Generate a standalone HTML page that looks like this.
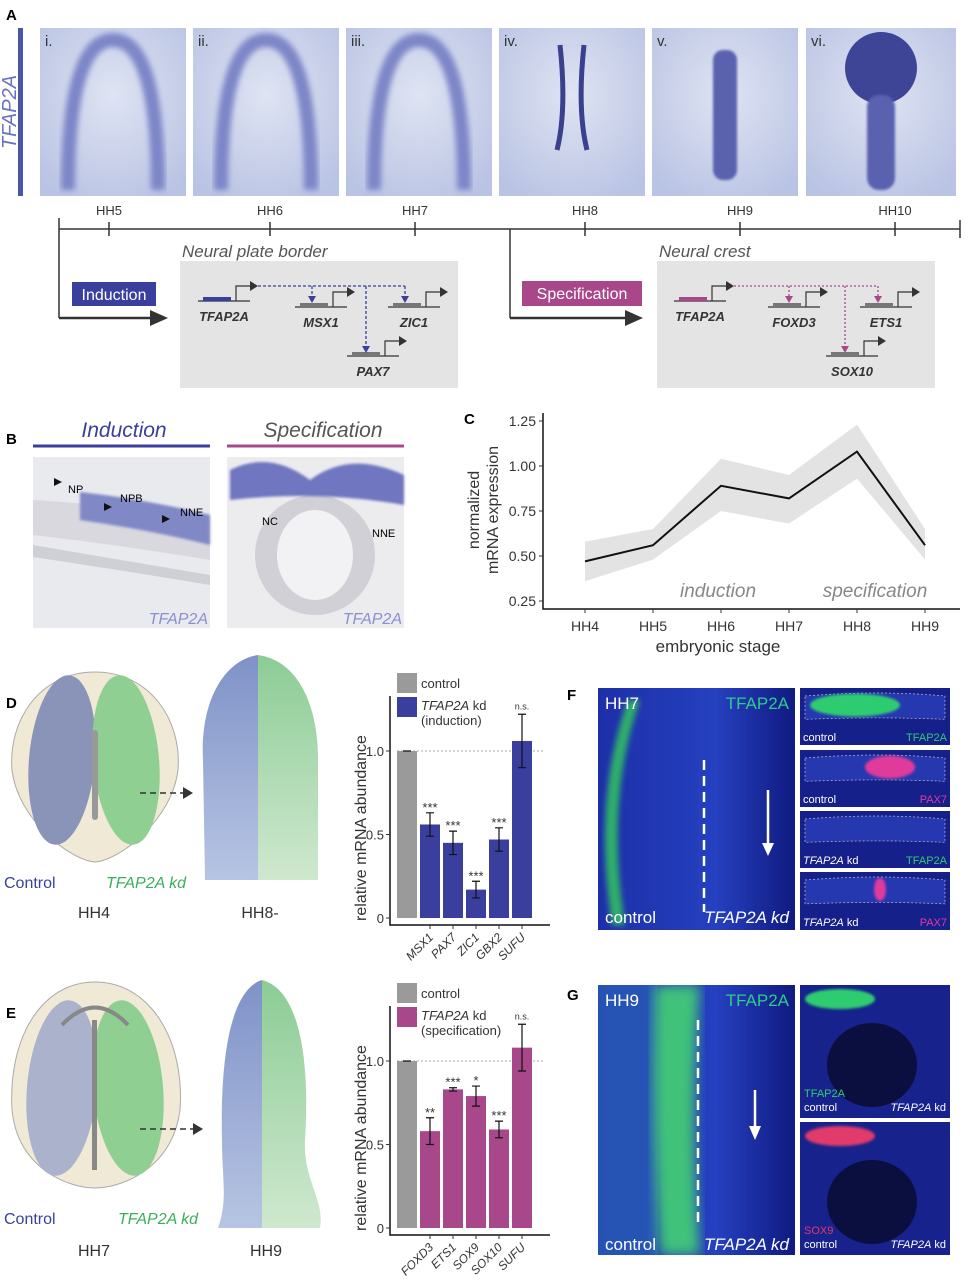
<!DOCTYPE html>
<html><head><meta charset="utf-8"><style>
html,body{margin:0;padding:0;background:#fff;width:969px;height:1280px;overflow:hidden}
svg{display:block;font-family:"Liberation Sans",Arial,sans-serif}
</style></head><body>
<svg id="fig" width="969" height="1280" viewBox="0 0 969 1280">
<defs>
<filter id="blur3"><feGaussianBlur stdDeviation="3"/></filter>
<filter id="blur6"><feGaussianBlur stdDeviation="6"/></filter>
<filter id="blur1"><feGaussianBlur stdDeviation="1.2"/></filter>
<clipPath id="clipG"><rect x="598" y="985" width="197" height="270"/></clipPath>
<clipPath id="clipF"><rect x="598" y="688" width="197" height="242"/></clipPath>
<radialGradient id="abg" cx="50%" cy="40%" r="70%"><stop offset="0" stop-color="#dfe4f3"/><stop offset="1" stop-color="#b9c3e3"/></radialGradient>
<linearGradient id="fbg" x1="0" x2="1"><stop offset="0" stop-color="#1d2fa8"/><stop offset="0.6" stop-color="#2540c0"/><stop offset="1" stop-color="#101a80"/></linearGradient>
<linearGradient id="embB" x1="0" x2="0" y1="0" y2="1"><stop offset="0" stop-color="#7f92c8"/><stop offset="1" stop-color="#b7c5e3"/></linearGradient>
<linearGradient id="embG" x1="0" x2="0" y1="0" y2="1"><stop offset="0" stop-color="#8ccc95"/><stop offset="1" stop-color="#cfe8cf"/></linearGradient>
</defs>

<!-- PANEL A -->
<text x="6" y="20" font-size="15" font-weight="bold">A</text>
<rect x="18" y="28" width="5" height="168" fill="#4a55b0"/>
<text transform="translate(16,112) rotate(-90)" text-anchor="middle" font-size="20" font-style="italic" fill="#6a72c4">TFAP2A</text>
<g id="aimgs"></g>

<g stroke="#333" stroke-width="1.5" fill="none">
<line x1="59" y1="229" x2="960" y2="229"/>
<line x1="59" y1="218" x2="59" y2="318"/>
<line x1="59" y1="318" x2="150" y2="318" stroke-width="2.5"/>
<line x1="510" y1="229" x2="510" y2="318"/>
<line x1="510" y1="318" x2="625" y2="318" stroke-width="2.5"/>
<line x1="960" y1="220" x2="960" y2="238"/>
</g>
<path d="M150,310 L168,318 L150,326z" fill="#333"/>
<path d="M625,310 L643,318 L625,326z" fill="#333"/>
<g id="tticks"></g>

<rect x="180" y="261" width="278" height="127" fill="#e4e4e4"/>
<rect x="657" y="261" width="278" height="127" fill="#e4e4e4"/>
<text x="182" y="257" font-size="17" font-style="italic" fill="#555">Neural plate border</text>
<text x="659" y="257" font-size="17" font-style="italic" fill="#555">Neural crest</text>
<rect x="72" y="282" width="84" height="24" fill="#3a3f9e"/>
<text x="114" y="300" text-anchor="middle" font-size="16" fill="#fff">Induction</text>
<rect x="522" y="281" width="120" height="25" fill="#a8488a"/>
<text x="582" y="299" text-anchor="middle" font-size="16" fill="#fff">Specification</text>
<g id="genes"></g>

<!-- PANEL B -->
<text x="6" y="444" font-size="15" font-weight="bold">B</text>
<text x="124" y="437" text-anchor="middle" font-size="21" font-style="italic" fill="#3a3f9e">Induction</text>
<line x1="33" y1="446" x2="210" y2="446" stroke="#3a3f9e" stroke-width="3"/>
<text x="323" y="437" text-anchor="middle" font-size="21" font-style="italic" fill="#555">Specification</text>
<line x1="227" y1="446" x2="404" y2="446" stroke="#a8488a" stroke-width="3"/>
<g>
<rect x="33" y="457" width="177" height="171" fill="#e9eaee"/>
<path d="M33,500 Q120,505 210,520 L210,560 Q120,545 33,535z" fill="#d8d8de"/>
<path d="M80,492 Q150,500 210,515 L210,545 Q150,530 80,520z" fill="#8188c6" filter="url(#blur1)"/>
<path d="M33,545 Q120,560 210,575 L210,585 Q120,570 33,557z" fill="#cfcfd6"/>
<path d="M62,482 l-8,-4 l0,8z M112,507 l-8,-4 l0,8z M170,519 l-8,-4 l0,8z" fill="#111"/>
<text x="68" y="493" font-size="11">NP</text>
<text x="120" y="502" font-size="11">NPB</text>
<text x="180" y="516" font-size="11">NNE</text>
<text x="208" y="624" text-anchor="end" font-size="16" font-style="italic" fill="#8a8fd0">TFAP2A</text>
</g>
<g>
<rect x="227" y="457" width="177" height="171" fill="#ececef"/>
<ellipse cx="315" cy="555" rx="60" ry="60" fill="#d0d0d6"/>
<ellipse cx="315" cy="555" rx="38" ry="45" fill="#f2f2f4"/>
<path d="M230,470 Q270,450 310,480 Q350,450 404,475 L404,505 Q320,490 230,500z" fill="#6f76c0" filter="url(#blur1)"/>
<text x="262" y="525" font-size="11">NC</text>
<text x="372" y="537" font-size="11">NNE</text>
<text x="402" y="624" text-anchor="end" font-size="16" font-style="italic" fill="#8a8fd0">TFAP2A</text>
</g>

<!-- PANEL C -->
<text x="464" y="424" font-size="15" font-weight="bold">C</text>
<g id="chartC"></g>

<!-- PANEL D -->
<text x="6" y="708" font-size="15" font-weight="bold">D</text>
<g>
<path d="M95,672 C150,672 182,720 178,770 C172,820 120,860 95,862 C70,860 18,820 12,770 C8,720 40,672 95,672z" fill="#efe9d6" stroke="#aaa"/>
<ellipse cx="62" cy="760" rx="33" ry="85" fill="#8a94b8" transform="rotate(5 62 760)"/>
<ellipse cx="126" cy="760" rx="33" ry="85" fill="#8fcf92" transform="rotate(-5 126 760)"/>
<rect x="92" y="730" width="6" height="90" rx="3" fill="#999"/>
<text x="4" y="888" font-size="16" fill="#3a3f9e">Control</text>
<text x="106" y="888" font-size="16" font-style="italic" fill="#3aae5a">TFAP2A kd</text>
<text x="94" y="918" text-anchor="middle" font-size="16" fill="#333">HH4</text>
</g>
<line x1="140" y1="793" x2="183" y2="793" stroke="#333" stroke-width="1.5" stroke-dasharray="6,4"/>
<path d="M183,787 L193,793 L183,799z" fill="#333"/>
<g>
<path d="M258,655 C225,660 200,700 203,760 L205,880 L258,880z" fill="url(#embB)"/>
<path d="M258,655 C295,660 318,700 318,760 L318,880 L258,880z" fill="url(#embG)"/>
<text x="260" y="918" text-anchor="middle" font-size="16" fill="#333">HH8-</text>
</g>
<g id="chartD"></g>

<!-- PANEL E -->
<text x="6" y="1018" font-size="15" font-weight="bold">E</text>
<g>
<path d="M95,982 C150,982 185,1040 180,1110 C172,1170 120,1188 95,1188 C70,1188 18,1170 12,1110 C8,1040 40,982 95,982z" fill="#efe9d6" stroke="#aaa"/>
<ellipse cx="62" cy="1088" rx="35" ry="88" fill="#aab2cc" transform="rotate(5 62 1088)"/>
<ellipse cx="128" cy="1088" rx="35" ry="88" fill="#8fcf92" transform="rotate(-5 128 1088)"/>
<rect x="92" y="1020" width="5" height="150" fill="#888"/>
<path d="M62,1025 Q95,990 128,1025" fill="none" stroke="#888" stroke-width="4"/>
<text x="4" y="1224" font-size="16" fill="#3a3f9e">Control</text>
<text x="118" y="1224" font-size="16" font-style="italic" fill="#3aae5a">TFAP2A kd</text>
<text x="94" y="1256" text-anchor="middle" font-size="16" fill="#333">HH7</text>
</g>
<line x1="140" y1="1129" x2="193" y2="1129" stroke="#333" stroke-width="1.5" stroke-dasharray="6,4"/>
<path d="M193,1123 L203,1129 L193,1135z" fill="#333"/>
<g>
<path d="M262,980 C230,990 220,1060 222,1140 C222,1180 228,1200 218,1228 L262,1228z" fill="url(#embB)"/>
<path d="M262,980 C300,990 310,1060 305,1140 C303,1180 325,1200 320,1228 L262,1228z" fill="url(#embG)"/>
<text x="266" y="1256" text-anchor="middle" font-size="16" fill="#333">HH9</text>
</g>
<g id="chartE"></g>

<!-- PANEL F -->
<text x="567" y="700" font-size="15" font-weight="bold">F</text>
<g>
<rect x="598" y="688" width="197" height="242" fill="url(#fbg)"/>
<g clip-path="url(#clipF)">
<path d="M640,700 Q605,800 625,925 L612,925 Q592,800 628,700z" fill="#2fae6a" filter="url(#blur3)"/>
</g>
<line x1="704" y1="760" x2="704" y2="912" stroke="#fff" stroke-width="2.5" stroke-dasharray="10,6"/>
<line x1="768" y1="790" x2="768" y2="845" stroke="#fff" stroke-width="2.5"/>
<path d="M762,843 L768,856 L774,843z" fill="#fff"/>
<text x="605" y="709" font-size="17" fill="#fff">HH7</text>
<text x="789" y="709" text-anchor="end" font-size="17" fill="#2ecc8a">TFAP2A</text>
<text x="605" y="923" font-size="17" fill="#fff">control</text>
<text x="789" y="923" text-anchor="end" font-size="17" font-style="italic" fill="#fff">TFAP2A kd</text>
</g>
<g id="fsmall"></g>

<!-- PANEL G -->
<text x="567" y="1000" font-size="15" font-weight="bold">G</text>
<g>
<rect x="598" y="985" width="197" height="270" fill="url(#fbg)"/>
<g clip-path="url(#clipG)">
<rect x="598" y="985" width="60" height="270" fill="#2a62b8" opacity="0.7"/>
<path d="M655,985 L700,985 Q690,1120 700,1255 L660,1255 Q650,1120 655,985z" fill="#3fc27a" filter="url(#blur6)"/>
</g>
<line x1="698" y1="1020" x2="698" y2="1225" stroke="#fff" stroke-width="2.5" stroke-dasharray="10,6"/>
<line x1="755" y1="1090" x2="755" y2="1128" stroke="#fff" stroke-width="2.5"/>
<path d="M749,1126 L755,1140 L761,1126z" fill="#fff"/>
<text x="605" y="1006" font-size="17" fill="#fff">HH9</text>
<text x="789" y="1006" text-anchor="end" font-size="17" fill="#2ecc8a">TFAP2A</text>
<text x="605" y="1250" font-size="17" fill="#fff">control</text>
<text x="789" y="1250" text-anchor="end" font-size="17" font-style="italic" fill="#fff">TFAP2A kd</text>
</g>
<g id="gsmall"></g>
</svg>

<script>
const NS="http://www.w3.org/2000/svg";
function mk(parent,tag,attrs,text){const e=document.createElementNS(NS,tag);for(const k in attrs)e.setAttribute(k,attrs[k]);if(text!==undefined)e.textContent=text;parent.appendChild(e);return e;}

const aLabels=["i.","ii.","iii.","iv.","v.","vi."];
const aX=[40,193,346,499,652,806];
const aimgs=document.getElementById('aimgs');
aLabels.forEach((l,i)=>{
 const x=aX[i],w=i==5?150:146;
 const g=mk(aimgs,'g',{});
 
 
 mk(g,'rect',{x:x,y:28,width:w,height:168,fill:'url(#abg)'});
 const cx=x+w/2;
 if(i<3){mk(g,'path',{d:`M${cx-45},190 Q${cx-45},40 ${cx},40 Q${cx+45},40 ${cx+45},190`,fill:'none',stroke:'#7d86c8','stroke-width':14,filter:'url(#blur3)'});}
 else if(i==3){mk(g,'path',{d:`M${cx-12},45 Q${cx-5},110 ${cx-15},150 M${cx+12},45 Q${cx+5},110 ${cx+15},150`,fill:'none',stroke:'#3a3f8e','stroke-width':5});}
 else if(i==4){mk(g,'rect',{x:cx-12,y:50,width:24,height:130,rx:10,fill:'#5a62b0',filter:'url(#blur1)'});}
 else {mk(g,'ellipse',{cx:cx,cy:68,rx:36,ry:36,fill:'#3e4596'});mk(g,'rect',{x:cx-14,y:95,width:28,height:95,rx:12,fill:'#5a62b0',filter:'url(#blur1)'});}
 mk(g,'text',{x:x+5,y:46,'font-size':15,fill:'#333'},l);
});
const tLabels=["HH5","HH6","HH7","HH8","HH9","HH10"];
const tX=[109,270,415,585,740,895];
const tt=document.getElementById('tticks');
tLabels.forEach((l,i)=>{
 mk(tt,'line',{x1:tX[i],y1:222,x2:tX[i],y2:236,stroke:'#333','stroke-width':1.5});
 mk(tt,'text',{x:tX[i],y:215,'text-anchor':'middle','font-size':13,fill:'#333'},l);
});
const genes=document.getElementById('genes');
function gene(x,y,name,col){
 const g=mk(genes,'g',{});
 
 
 mk(g,'line',{x1:x,y1:y,x2:x+52,y2:y,stroke:'#333','stroke-width':1.2});
 mk(g,'rect',{x:x+5,y:y-4,width:28,height:4,fill:col});
 mk(g,'path',{d:`M${x+38},${y} V${y-15} H${x+52}`,fill:'none',stroke:'#333','stroke-width':1.2});
 mk(g,'path',{d:`M${x+52},${y-20} L${x+60},${y-15} L${x+52},${y-10}z`,fill:'#333'});
 mk(g,'text',{x:x+26,y:y+20,'text-anchor':'middle','font-size':13,'font-weight':'bold','font-style':'italic',fill:'#333'},name);
}
gene(198,301,'TFAP2A','#3a3f9e');gene(295,307,'MSX1','#777');gene(388,307,'ZIC1','#777');gene(347,356,'PAX7','#777');
mk(genes,'path',{d:'M258,286 H405 M312,286 V299 M405,286 V299 M366,286 V349',fill:'none',stroke:'#3a3f9e','stroke-dasharray':'3,2','stroke-width':1.3});
[[312,303],[405,303],[366,353]].forEach(p=>mk(genes,'path',{d:`M${p[0]-4},${p[1]-7} L${p[0]+4},${p[1]-7} L${p[0]},${p[1]}z`,fill:'#3a3f9e'}));
gene(674,301,'TFAP2A','#a8488a');gene(768,307,'FOXD3','#777');gene(860,307,'ETS1','#777');gene(826,356,'SOX10','#777');
mk(genes,'path',{d:'M734,286 H878 M789,286 V299 M878,286 V299 M845,286 V349',fill:'none',stroke:'#a8488a','stroke-dasharray':'2,2','stroke-width':1.3});
[[789,303],[878,303],[845,353]].forEach(p=>mk(genes,'path',{d:`M${p[0]-4},${p[1]-7} L${p[0]+4},${p[1]-7} L${p[0]},${p[1]}z`,fill:'#a8488a'}));

const cStages=["HH4","HH5","HH6","HH7","HH8","HH9"];
const cMean=[0.47,0.56,0.89,0.82,1.08,0.56];
const cUpper=[0.58,0.65,1.04,0.95,1.23,0.65];
const cLower=[0.36,0.48,0.75,0.68,0.93,0.48];
const cTicks=[0.25,0.50,0.75,1.00,1.25];
(function(){
 const g=document.getElementById('chartC');
 const X=i=>585+i*68, Y=v=>601-(v-0.25)*180;
 let up=cUpper.map((v,i)=>X(i)+','+Y(v)).join(' L');
 let lo=cLower.map((v,i)=>X(i)+','+Y(v)).reverse().join(' L');
 const band=mk(g,'path',{d:'M'+up+' L'+lo+'z',fill:'#e3e3e3'});
 
 
 const ln=mk(g,'path',{d:'M'+cMean.map((v,i)=>X(i)+','+Y(v)).join(' L'),fill:'none',stroke:'#111','stroke-width':2});
 
 
 mk(g,'path',{d:'M543,413 V609 H960',fill:'none',stroke:'#111','stroke-width':1.5});
 cTicks.forEach(t=>{mk(g,'line',{x1:539,y1:Y(t),x2:543,y2:Y(t),stroke:'#333'});mk(g,'text',{x:536,y:Y(t)+5,'text-anchor':'end','font-size':14,fill:'#333'},t.toFixed(2));});
 cStages.forEach((s,i)=>{mk(g,'line',{x1:X(i),y1:609,x2:X(i),y2:613,stroke:'#333'});mk(g,'text',{x:X(i),y:631,'text-anchor':'middle','font-size':14,fill:'#333'},s);});
 mk(g,'text',{x:718,y:652,'text-anchor':'middle','font-size':17,fill:'#333'},'embryonic stage');
 mk(g,'text',{transform:'translate(479,510) rotate(-90)','text-anchor':'middle','font-size':16,fill:'#333'},'normalized');
 mk(g,'text',{transform:'translate(498,510) rotate(-90)','text-anchor':'middle','font-size':16,fill:'#333'},'mRNA expression');
 mk(g,'text',{x:718,y:597,'text-anchor':'middle','font-size':19,'font-style':'italic',fill:'#888'},'induction');
 mk(g,'text',{x:875,y:597,'text-anchor':'middle','font-size':19,'font-style':'italic',fill:'#888'},'specification');
})();

const dGenes=["MSX1","PAX7","ZIC1","GBX2","SUFU"];
const dValues=[1.0,0.56,0.45,0.17,0.47,1.06];
const dErr=[0.0,0.07,0.07,0.05,0.07,0.16];
const dSig=["","***","***","***","***","n.s."];
const eGenes=["FOXD3","ETS1","SOX9","SOX10","SUFU"];
const eValues=[1.0,0.58,0.83,0.79,0.59,1.08];
const eErr=[0.0,0.08,0.01,0.06,0.05,0.14];
const eSig=["","**","***","*","***","n.s."];
const barTicks=[0,0.5,1.0];
function barChart(id,genes,vals,errs,sig,y0,col,stage){
 const g=document.getElementById(id);
 const X=i=>397+i*23, Y=v=>y0-v*167;
 mk(g,'text',{transform:`translate(366,${y0-90}) rotate(-90)`,'text-anchor':'middle','font-size':16,fill:'#333'},'relative mRNA abundance');
 mk(g,'line',{x1:397,y1:Y(1),x2:545,y2:Y(1),stroke:'#aaa','stroke-dasharray':'2,2'});
 vals.forEach((v,i)=>{
  const b=mk(g,'rect',{x:X(i),y:Y(v),width:20,height:v*167,fill:i==0?'#9a9a9a':col});
  
  
  const cx=X(i)+10,e=errs[i];
  mk(g,'path',{d:`M${cx-4},${Y(v+e)} H${cx+4} M${cx},${Y(v+e)} V${Y(v-e)} M${cx-4},${Y(v-e)} H${cx+4}`,stroke:'#111','stroke-width':1.2,fill:'none'});
  if(sig[i])mk(g,'text',{x:cx,y:Y(v+e)-(sig[i]=='n.s.'?5:1),'text-anchor':'middle','font-size':sig[i]=='n.s.'?9:13,fill:'#333'},sig[i]);
 });
 mk(g,'path',{d:`M390,${y0-222} V${y0+7} H550`,fill:'none',stroke:'#111','stroke-width':1.5});
 barTicks.forEach(t=>{mk(g,'line',{x1:386,y1:Y(t),x2:390,y2:Y(t),stroke:'#333'});mk(g,'text',{x:384,y:Y(t)+5,'text-anchor':'end','font-size':13,fill:'#333'},t==0?'0':t.toFixed(1));});
 genes.forEach((n,i)=>{const cx=X(i+1)+12;mk(g,'line',{x1:cx-2,y1:y0+7,x2:cx-2,y2:y0+11,stroke:'#333'});mk(g,'text',{transform:`translate(${cx+2},${y0+20}) rotate(-45)`,'text-anchor':'end','font-size':12,'font-style':'italic',fill:'#333'},n);});
 const ly=y0-245;
 mk(g,'rect',{x:397,y:ly,width:20,height:20,fill:'#9a9a9a'});
 mk(g,'rect',{x:397,y:ly+24,width:20,height:20,fill:col});
 mk(g,'text',{x:421,y:ly+15,'font-size':13,fill:'#333'},'control');
 const t=mk(g,'text',{x:421,y:ly+37,'font-size':13,fill:'#333'});
 mk(t,'tspan',{'font-style':'italic'},'TFAP2A');mk(t,'tspan',{},' kd');
 mk(g,'text',{x:421,y:ly+52,'font-size':13,fill:'#333'},'('+stage+')');
}
barChart('chartD',dGenes,dValues,dErr,dSig,918,'#3a3f9e','induction');
barChart('chartE',eGenes,eValues,eErr,eSig,1228,'#a8488a','specification');

function small(id,y,h,label,marker,mcol,dots){
 const g=mk(document.getElementById(id),'g',{});
 
 
 mk(g,'rect',{x:800,y:y,width:150,height:h,fill:'#15208a'});
 mk(g,'path',{d:`M805,${y+8} Q880,${y+2} 945,${y+8} L945,${y+h*0.55} Q880,${y+h*0.5} 805,${y+h*0.55}z`,fill:'#2638b0',stroke:'#bbb','stroke-dasharray':'2,2','stroke-width':0.7});
 if(dots)mk(g,'ellipse',{cx:dots[0],cy:y+h*0.3,rx:dots[1],ry:h*0.2,fill:mcol,filter:'url(#blur1)'});
 const t=mk(g,'text',{x:803,y:y+h-4,'font-size':11,fill:'#fff'});
 if(label=='control')t.textContent='control';else{mk(t,'tspan',{'font-style':'italic'},'TFAP2A');mk(t,'tspan',{},' kd');}
 mk(g,'text',{x:947,y:y+h-4,'text-anchor':'end','font-size':11,fill:mcol},marker);
}
small('fsmall',688,57,'control','TFAP2A','#2ecc70',[855,45]);
small('fsmall',750,57,'control','PAX7','#e03a9a',[890,25]);
small('fsmall',811,57,'kd','TFAP2A','#2ecc70',null);
small('fsmall',872,58,'kd','PAX7','#e03a9a',[880,6]);
function smallG(y,marker,mcol){
 const g=mk(document.getElementById('gsmall'),'g',{});
 
 
 mk(g,'rect',{x:800,y:y,width:150,height:133,fill:'#17228c'});
 mk(g,'ellipse',{cx:872,cy:y+80,rx:45,ry:42,fill:'#0b0f40'});
 mk(g,'ellipse',{cx:840,cy:y+14,rx:35,ry:10,fill:mcol,filter:'url(#blur1)'});
 mk(g,'text',{x:804,y:y+112,'font-size':11,fill:mcol},marker);
 mk(g,'text',{x:804,y:y+126,'font-size':11,fill:'#fff'},'control');
 const t=mk(g,'text',{x:946,y:y+126,'text-anchor':'end','font-size':11,fill:'#fff'});
 mk(t,'tspan',{'font-style':'italic'},'TFAP2A');mk(t,'tspan',{},' kd');
}
smallG(985,'TFAP2A','#2ecc70');
smallG(1122,'SOX9','#e03a6a');
</script>
</body></html>
